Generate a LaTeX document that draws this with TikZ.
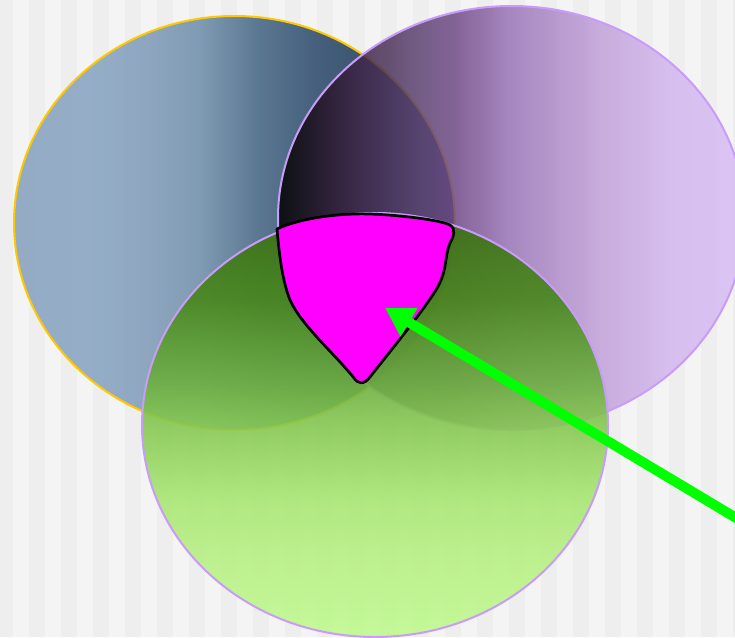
\documentclass[tikz,border=0pt]{standalone}
\usetikzlibrary{arrows.meta}
\definecolor{bgdark}{HTML}{EEEEEE}
\definecolor{bglight}{HTML}{F4F4F4}
\definecolor{goldline}{HTML}{FFC800}
\definecolor{lavline}{HTML}{C89CF8}
\definecolor{magenta2}{HTML}{FF00FF}
\definecolor{arrowgreen}{HTML}{00FF00}
% blue stops
\definecolor{bA}{HTML}{90A8C2}
\definecolor{bB}{HTML}{90AAC4}
\definecolor{bC}{HTML}{88A2BC}
\definecolor{bD}{HTML}{7A96B0}
\definecolor{bE}{HTML}{52708C}
\definecolor{bF}{HTML}{3E5A78}
\definecolor{bG}{HTML}{1E3650}
% purple stops
\definecolor{pA}{HTML}{000000}
\definecolor{pB}{HTML}{140A12}
\definecolor{pC}{HTML}{392140}
\definecolor{pD}{HTML}{5E4473}
\definecolor{pE}{HTML}{714B88}
\definecolor{pF}{HTML}{9B76B8}
\definecolor{pG}{HTML}{C1A0D9}
\definecolor{pH}{HTML}{D2B6EE}
\definecolor{pI}{HTML}{D8BCF5}
% green stops (bottom to top)
\definecolor{gA}{HTML}{BFF98E}
\definecolor{gB}{HTML}{B8F085}
\definecolor{gC}{HTML}{A9E774}
\definecolor{gD}{HTML}{84C650}
\definecolor{gE}{HTML}{6CAE40}
\definecolor{gF}{HTML}{48881B}
\definecolor{gG}{HTML}{3A6E10}
\pgfdeclarehorizontalshading{blueshade}{100bp}{color(0bp)=(bA); color(25bp)=(bA); color(34.75bp)=(bB); color(40.4bp)=(bC); color(46.1bp)=(bD); color(52.9bp)=(bE); color(58.6bp)=(bF); color(75bp)=(bG); color(100bp)=(bG)}
\pgfdeclarehorizontalshading{purpleshade}{100bp}{color(0bp)=(pA); color(25bp)=(pA); color(27.4bp)=(pB); color(32.7bp)=(pC); color(40.2bp)=(pD); color(44bp)=(pE); color(50bp)=(pF); color(59.5bp)=(pG); color(67bp)=(pH); color(75bp)=(pI); color(100bp)=(pI)}
\pgfdeclareverticalshading{greenshade}{100bp}{color(0bp)=(gA); color(25.8bp)=(gA); color(34.1bp)=(gB); color(41.2bp)=(gC); color(50.6bp)=(gD); color(55.3bp)=(gE); color(64.7bp)=(gF); color(75bp)=(gG); color(100bp)=(gG)}
\tikzset{
  blueset/.style={draw=goldline, line width=2pt, shading=blueshade, fill opacity=0.95},
  purpleset/.style={draw=lavline, line width=2pt, shading=purpleshade, fill opacity=0.85},
  greenset/.style={draw=lavline, line width=2pt, shading=greenshade, fill opacity=0.9},
  blobstyle/.style={draw=black, fill=magenta2, line width=2.7pt, line join=round},
  pointer/.style={draw=arrowgreen, line width=10pt, -{Triangle[length=28pt,width=31pt]}}
}
\begin{document}
\begin{tikzpicture}[x=1pt,y=-1pt]
\useasboundingbox (0,0) rectangle (735,637);
\clip (0,0) rectangle (735,637);
\fill[bgdark] (0,0) rectangle (735,637);
\foreach \k in {0,...,22} {
  \fill[bglight] ({13+32*\k},0) rectangle ({29+32*\k},637);
}
\path[blueset] (234.5,223) ellipse [x radius=220.5, y radius=207];
\path[purpleset] (511.5,218) ellipse [x radius=233.5, y radius=212];
\path[greenset] (375,425) ellipse [x radius=233, y radius=212];
\path[blobstyle] (277,229) .. controls (300,218) and (340,213) .. (370,214)
  .. controls (400,215) and (440,220) .. (450,225)
  .. controls (456,229) and (454,236) .. (450,243)
  .. controls (444,258) and (448,270) .. (436,290)
  .. controls (420,315) and (395,345) .. (370,377)
  .. controls (364,385) and (358,384) .. (354,378)
  .. controls (333,352) and (302,326) .. (290,300)
  .. controls (282,280) and (279,252) .. (277,229) -- cycle;
\coordinate (tail) at (768,537);
\coordinate (tip) at (385,308);
\draw[pointer] (tail) -- (tip);
\end{tikzpicture}
\end{document}
